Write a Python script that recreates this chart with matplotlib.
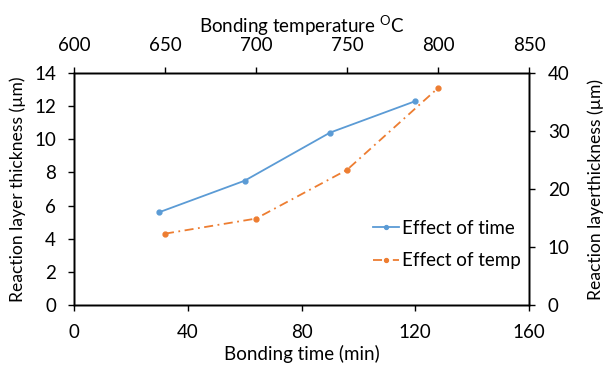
import matplotlib as mpl
import matplotlib.pyplot as plt

mpl.rc('font', family=['Lato', 'DejaVu Sans'], size=13.5)
mpl.rc('mathtext', fontset='custom', rm='Lato')
mpl.rc('axes', linewidth=1.0)

# Effect of bonding time (bottom / left axes)
time_min = [30, 60, 90, 120]
thick_time = [5.6, 7.5, 10.4, 12.3]

# Effect of bonding temperature (top / right axes)
temp_c = [650, 700, 750, 800]
thick_temp = [12.3, 14.9, 23.3, 37.4]

blue = '#5B9BD5'
orange = '#ED7D31'

fig = plt.figure(figsize=(6.07, 3.67), dpi=100)
ax = fig.add_axes([74/607, 1 - 305/367, 455/607, 232/367])
ax_r = ax.twinx()
ax_t = ax_r.twiny()

l1, = ax.plot(time_min, thick_time, color=blue, linewidth=1.3,
              marker='o', markersize=3.5, label='Effect of time')
l2, = ax_t.plot(temp_c, thick_temp, color=orange, linewidth=1.3,
                linestyle=(0, (5, 2.5, 1, 2.5)),
                marker='o', markersize=3.5, label='Effect of temp')

ax.set_xlim(0, 160)
ax.set_ylim(0, 14)
ax.set_xticks([0, 40, 80, 120, 160])
ax.set_yticks(range(0, 15, 2))
ax_r.set_ylim(0, 40)
ax_r.set_yticks(range(0, 41, 10))
ax_t.set_xlim(600, 850)
ax_t.set_xticks(range(600, 851, 50))

ax.tick_params(axis='x', direction='out', length=4.5, width=1, pad=9)
ax.tick_params(axis='y', direction='out', length=4.5, width=1, pad=8.5)
ax_r.tick_params(direction='out', length=4.5, width=1, pad=9)
ax_t.tick_params(direction='out', length=4.5, width=1, pad=9.5)

ax.set_xlabel('Bonding time (min)', labelpad=3)
ax.set_ylabel('Reaction layer thickness (µm)', fontsize=12.6, labelpad=6)
ax_r.set_ylabel('Reaction layerthickness (µm)', fontsize=12.6, labelpad=13)
ax_t.set_xlabel(r'Bonding temperature $^{\rm O}$C', labelpad=3)

leg = ax_t.legend([l1, l2], ['Effect of time', 'Effect of temp'],
                  loc='upper left', bbox_to_anchor=(365/607, 1 - 212/367),
                  bbox_transform=fig.transFigure, frameon=False,
                  handlelength=1.4, handletextpad=0.2, labelspacing=0.85,
                  borderaxespad=0, markerscale=0.8)

fig.savefig('out.png', dpi=100)
